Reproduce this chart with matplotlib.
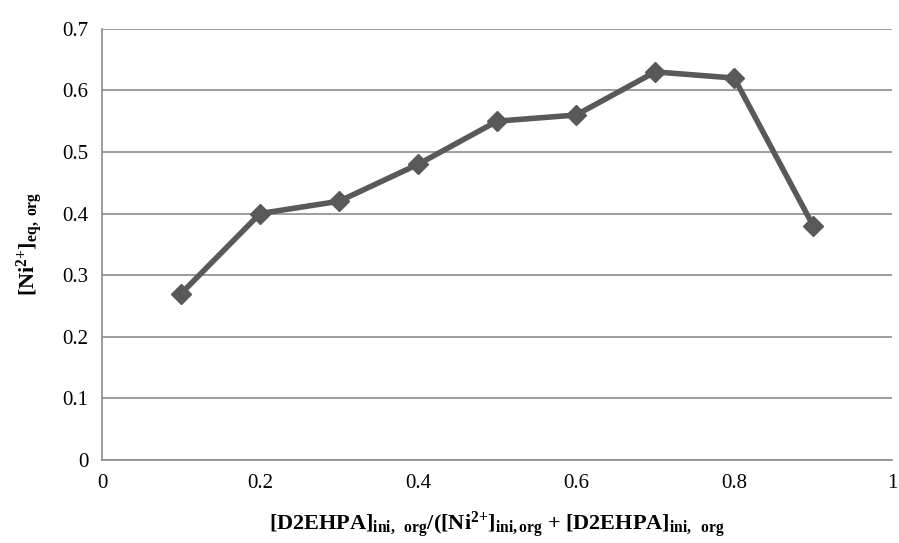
import matplotlib
matplotlib.use('Agg')
import matplotlib.pyplot as plt

ratio = [0.1, 0.2, 0.3, 0.4, 0.5, 0.6, 0.7, 0.8, 0.9]
ni_eq_org = [0.27, 0.40, 0.42, 0.48, 0.55, 0.56, 0.63, 0.62, 0.38]
xticks = [0, 0.2, 0.4, 0.6, 0.8, 1]
xtick_labels = ['0', '0.2', '0.4', '0.6', '0.8', '1']
yticks = [0, 0.1, 0.2, 0.3, 0.4, 0.5, 0.6, 0.7]
ytick_labels = ['0', '0.1', '0.2', '0.3', '0.4', '0.5', '0.6', '0.7']

plt.rcParams['font.family'] = ['Liberation Serif', 'DejaVu Serif']
plt.rcParams['mathtext.fontset'] = 'custom'
plt.rcParams['mathtext.rm'] = 'Liberation Serif'
plt.rcParams['mathtext.bf'] = 'Liberation Serif:bold'
plt.rcParams['mathtext.it'] = 'Liberation Serif:italic'

fig = plt.figure(figsize=(8.99, 5.43), dpi=100)
ax = fig.add_axes([0.1135, 0.153, 0.879, 0.794])

ax.plot(ratio, ni_eq_org, color='#595959', linewidth=4, marker='D',
        markersize=10, zorder=3)

ax.set_xlim(0, 1)
ax.set_ylim(0, 0.7)
ax.set_xticks(xticks)
ax.set_xticklabels(xtick_labels)
ax.set_yticks(yticks)
ax.set_yticklabels(ytick_labels)
ax.tick_params(length=0, labelsize=15, pad=10)
ax.grid(axis='y', color='#8c8c8c', linewidth=1.2)
ax.set_axisbelow(True)

for side in ['top', 'right']:
    ax.spines[side].set_visible(False)
for side in ['left', 'bottom']:
    ax.spines[side].set_color('#8c8c8c')
    ax.spines[side].set_linewidth(1.2)

ax.set_xlabel(r'[D2EHPA]$_{\mathbf{ini,\ \ org}}$/([Ni$^{\mathbf{2{+}}}$]$_{\mathbf{ini,org}}$'
              r' + [D2EHPA]$_{\mathbf{ini,\ \ org}}$',
              fontsize=16, fontweight='bold', labelpad=12)
ax.set_ylabel(r'[Ni$^{\mathbf{2{+}}}$]$_{\mathbf{eq,\ org}}$',
              fontsize=16, fontweight='bold', labelpad=12)

fig.savefig('out.png', dpi=100)
